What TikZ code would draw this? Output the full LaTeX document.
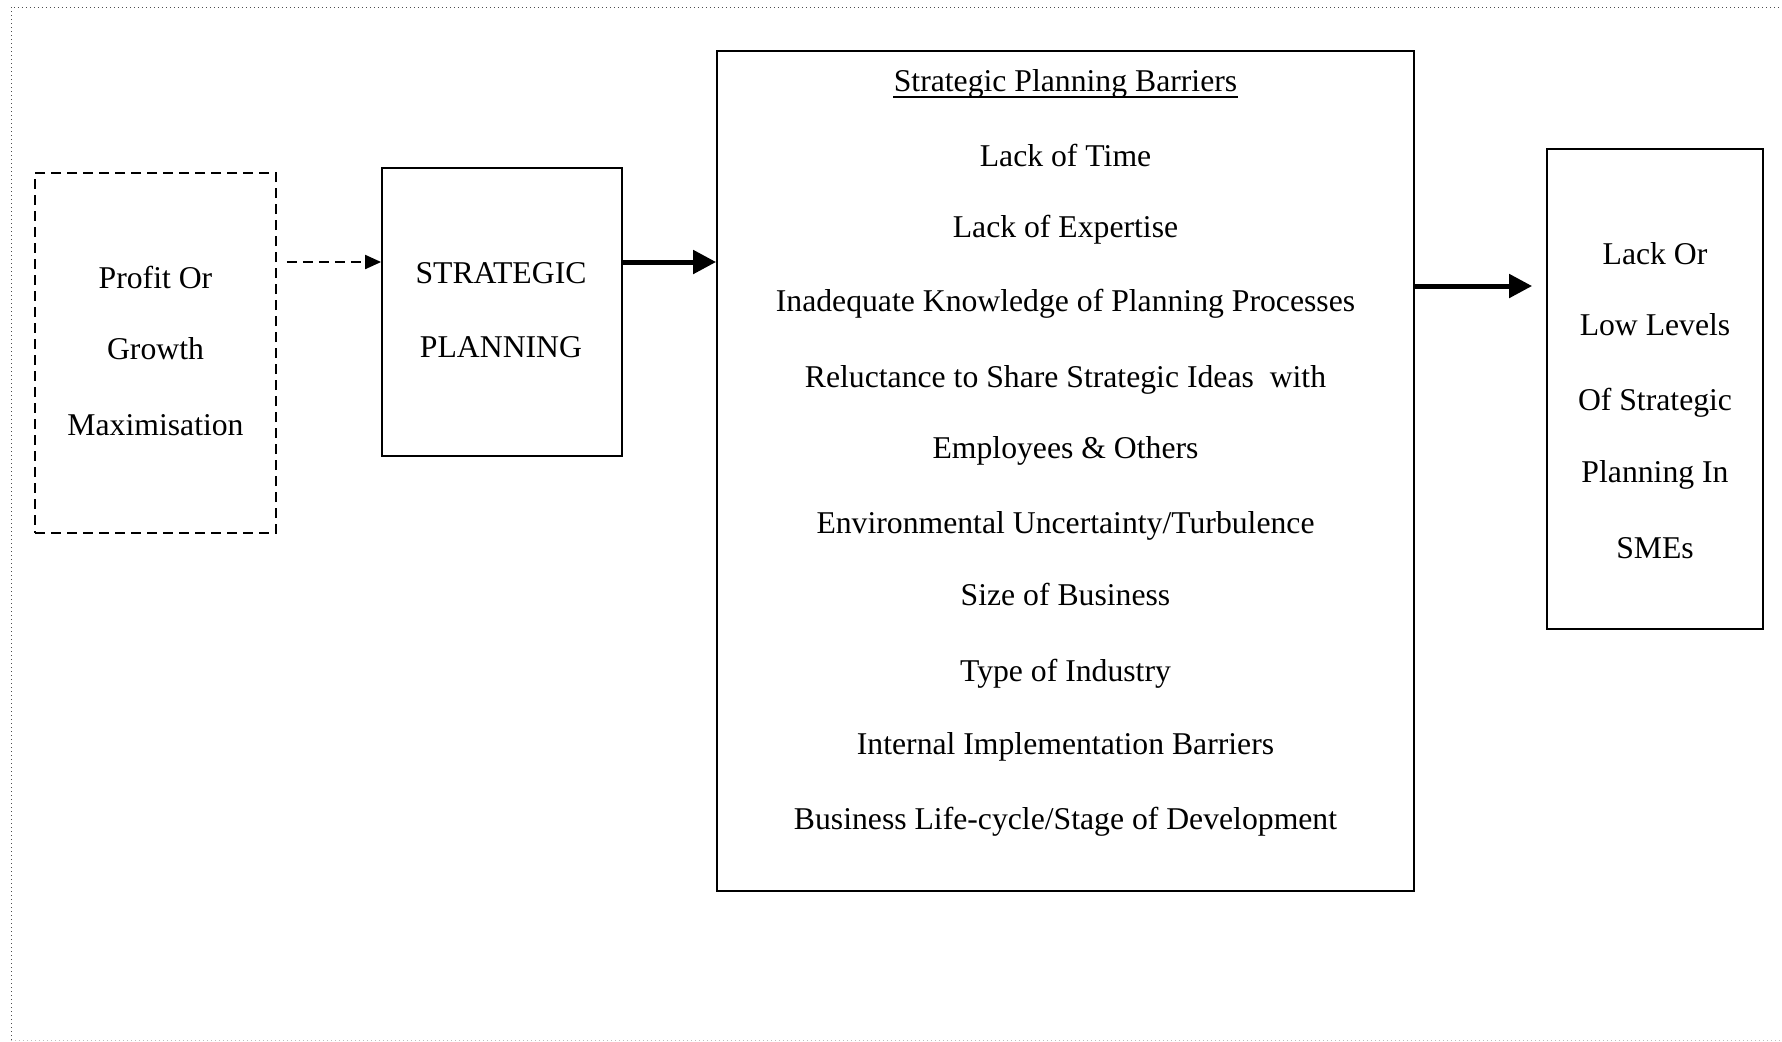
\documentclass[tikz,border=0pt]{standalone}
\usepackage{fontspec}
\setmainfont{Liberation Serif}
\usetikzlibrary{arrows.meta,fit}
\begin{document}
\begin{tikzpicture}[x=0.5pt,y=-0.5pt,
  boxline/.style={draw=black, line width=0.9pt, inner sep=0pt},
  dashbox/.style={draw=black, line width=0.9pt, inner sep=0pt, dash pattern=on 5pt off 3pt},
  txt/.style={anchor=base, inner sep=0pt, font=\fontsize{15.85pt}{19pt}\selectfont},
  thickarrow/.style={line width=2.5pt, -{Triangle[length=11.5pt,width=11.5pt]}},
  dasharrow/.style={line width=1pt, dash pattern=on 5pt off 3pt, -{Triangle[length=8pt,width=7pt]}},
  frame/.style={line width=0.5pt, dash pattern=on 0.6pt off 1.4pt}]
\useasboundingbox (0,0) rectangle (1782,1041);
% outer dotted frame
\draw[frame, black!70] (11,1040) -- (11,7) -- (1782,7);
\draw[frame, black!25] (11,1040) -- (1782,1040);

% boxes
\node[dashbox, fit={(35,173) (276,533)}] (goal) {};
\node[boxline, fit={(382,168) (622,456)}] (strat) {};
\node[boxline, fit={(717,51) (1414,891)}] (barriers) {};
\node[boxline, fit={(1547,149) (1763,629)}] (result) {};

% left box text
\node[txt] (g1) at (155.5,288) {Profit Or};
\node[txt] (g2) at (155.5,359) {Growth};
\node[txt] (g3) at (155.5,435) {Maximisation};

% strategic planning text
\node[txt] (s1) at (501,283) {STRATEGIC};
\node[txt] (s2) at (501,357) {PLANNING};

% barriers text
\node[txt] (title) at (1065.5,91) {Strategic Planning Barriers};
\draw[line width=0.7pt] ([yshift=-3pt]title.base west) -- ([yshift=-3pt]title.base east);
\node[txt] (b1) at (1065.5,166) {Lack of Time};
\node[txt] (b2) at (1065.5,237) {Lack of Expertise};
\node[txt] (b3) at (1065.5,311) {Inadequate Knowledge of Planning Processes};
\node[txt] (b4) at (1065.5,387) {Reluctance to Share Strategic Ideas\ \ with};
\node[txt] (b5) at (1065.5,458) {Employees \& Others};
\node[txt] (b6) at (1065.5,533) {Environmental Uncertainty/Turbulence};
\node[txt] (b7) at (1065.5,605) {Size of Business};
\node[txt] (b8) at (1065.5,681) {Type of Industry};
\node[txt] (b9) at (1065.5,754) {Internal Implementation Barriers};
\node[txt] (b10) at (1065.5,829) {Business Life-cycle/Stage of Development};

% result text
\node[txt] (r1) at (1655,264) {Lack Or};
\node[txt] (r2) at (1655,335) {Low Levels};
\node[txt] (r3) at (1655,410) {Of Strategic};
\node[txt] (r4) at (1655,482) {Planning In};
\node[txt] (r5) at (1655,558) {SMEs};

% connectors
\coordinate (a1) at (330,262);
\coordinate (a2) at (670,262);
\coordinate (a3) at (1480,286);
\draw[dasharrow] ([xshift=5pt]goal.east |- a1) -- (strat.west |- a1);
\draw[thickarrow] (strat.east |- a2) -- (barriers.west |- a2);
\draw[thickarrow] (barriers.east |- a3) -- ([xshift=-7pt]result.west |- a3);
\end{tikzpicture}
\end{document}
